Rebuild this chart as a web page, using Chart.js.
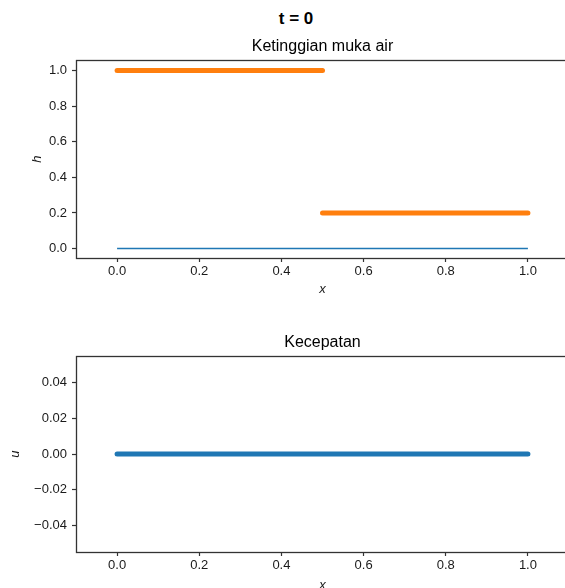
<!DOCTYPE html>
<html>
<head>
<meta charset="utf-8">
<script src="https://cdn.jsdelivr.net/npm/chart.js@4.4.0/dist/chart.umd.min.js"></script>
<style>
  body { margin: 0; background: #fff; overflow: hidden; width: 565px; height: 588px; position: relative; }
  #judul { position: absolute; left: 0; top: 9px; width: 592px; text-align: center;
           font: bold 17px "Liberation Sans", Arial, sans-serif; color: #000; }
  #wrap1 { position: absolute; left: 0; top: 0; width: 620px; height: 300px; }
  #wrap2 { position: absolute; left: 0; top: 300px; width: 620px; height: 300px; }
</style>
</head>
<body>
<div id="judul">t = 0</div>
<div id="wrap1"><canvas id="grafik1" width="620" height="300"></canvas></div>
<div id="wrap2"><canvas id="grafik2" width="620" height="300"></canvas></div>
<script>
// data kondisi awal (t = 0)
const xKiri = [0.0, 0.5];
const hKiri = [1.0, 1.0];
const xKanan = [0.5, 1.0];
const hKanan = [0.2, 0.2];
const xDasar = [0.0, 1.0];
const zDasar = [0.0, 0.0];
const xU = [0.0, 1.0];
const uNilai = [0.0, 0.0];

// tick
const xTicks = [0.0, 0.2, 0.4, 0.6, 0.8, 1.0];
const hTicks = [0.0, 0.2, 0.4, 0.6, 0.8, 1.0];
const uTicks = [-0.04, -0.02, 0.0, 0.02, 0.04];

const biru = '#1f77b4';
const oranye = '#ff7f0e';
const huruf = '"Liberation Sans", Arial, sans-serif';

function titik(xs, ys) {
    let hasil = [];
    for (let i = 0; i < xs.length; i++) {
        hasil.push({x: xs[i], y: ys[i]});
    }
    return hasil;
}

function minus(v, d) {
    let s = Math.abs(v).toFixed(d);
    return v < -1e-9 ? '\u2212' + s : s;
}

// bingkai kotak seperti matplotlib
const bingkai = {
    id: 'bingkai',
    afterDraw(chart) {
        const a = chart.chartArea;
        const c = chart.ctx;
        c.save();
        c.strokeStyle = '#333';
        c.lineWidth = 1.3;
        c.strokeRect(Math.round(a.left) + 0.5, Math.round(a.top) + 0.5,
                     Math.round(a.right - a.left), Math.round(a.bottom - a.top));
        c.restore();
    }
};

function sumbuX(tinggi, padBawah) {
    return {
        type: 'linear',
        min: -0.1,
        max: 1.1,
        afterBuildTicks: (s) => { s.ticks = xTicks.map(v => ({value: v})); },
        afterFit: (s) => { s.height = tinggi; },
        grid: { drawOnChartArea: false, drawTicks: true, tickLength: 4, color: '#333', tickWidth: 1.2 },
        border: { display: false },
        ticks: { color: '#1a1a1a', font: { family: huruf, size: 13 }, padding: 2,
                 maxRotation: 0, callback: (v) => v.toFixed(1) },
        title: { display: true, text: 'x', color: '#1a1a1a',
                 font: { family: huruf, size: 13, style: 'italic' },
                 padding: { top: 0, bottom: padBawah } }
    };
}

function sumbuY(min, max, ticks, digit, label, padKiri) {
    return {
        type: 'linear',
        min: min,
        max: max,
        afterBuildTicks: (s) => { s.ticks = ticks.map(v => ({value: v})); },
        afterFit: (s) => { s.width = 76; },
        grid: { drawOnChartArea: false, drawTicks: true, tickLength: 4, color: '#333', tickWidth: 1.2 },
        border: { display: false },
        ticks: { color: '#1a1a1a', font: { family: huruf, size: 13 }, padding: 5,
                 callback: (v) => minus(v, digit) },
        title: { display: true, text: label, color: '#1a1a1a',
                 font: { family: huruf, size: 13, style: 'italic' },
                 padding: { top: padKiri, bottom: 0 } }
    };
}

function judulPlot(teks, padAtas, padBawah) {
    return {
        display: true,
        text: teks,
        fullSize: false,
        color: '#000',
        font: { family: huruf, size: 16, weight: 'normal' },
        padding: { top: padAtas, bottom: padBawah }
    };
}

// grafik 1: ketinggian muka air
let ctx1 = document.getElementById('grafik1').getContext('2d');
let chart1 = new Chart(ctx1, {
    type: 'scatter',
    data: {
        datasets: [
            { label: 'dasar', data: titik(xDasar, zDasar), showLine: true, borderColor: biru,
              borderWidth: 1.6, pointRadius: 0, order: 2 },
            { label: 'h kiri', data: titik(xKiri, hKiri), showLine: true, borderColor: oranye,
              borderWidth: 5, borderCapStyle: 'round', pointRadius: 0, order: 1 },
            { label: 'h kanan', data: titik(xKanan, hKanan), showLine: true, borderColor: oranye,
              borderWidth: 5, borderCapStyle: 'round', pointRadius: 0, order: 1 }
        ]
    },
    options: {
        responsive: false,
        animation: false,
        layout: { padding: { top: 0, left: 0, right: 51, bottom: 0 } },
        plugins: {
            legend: { display: false },
            tooltip: { enabled: false },
            title: judulPlot('Ketinggian muka air', 37, 4)
        },
        scales: {
            x: sumbuX(42, 3),
            y: sumbuY(-0.053, 1.058, hTicks, 1, 'h', 30)
        }
    },
    plugins: [bingkai]
});

// grafik 2: kecepatan
let ctx2 = document.getElementById('grafik2').getContext('2d');
let chart2 = new Chart(ctx2, {
    type: 'scatter',
    data: {
        datasets: [
            { label: 'u', data: titik(xU, uNilai), showLine: true, borderColor: biru,
              borderWidth: 5, borderCapStyle: 'round', pointRadius: 0 }
        ]
    },
    options: {
        responsive: false,
        animation: false,
        layout: { padding: { top: 0, left: 0, right: 51, bottom: 0 } },
        plugins: {
            legend: { display: false },
            tooltip: { enabled: false },
            title: judulPlot('Kecepatan', 33, 4)
        },
        scales: {
            x: sumbuX(48, 7),
            y: sumbuY(-0.055, 0.055, uTicks, 2, 'u', 8)
        }
    },
    plugins: [bingkai]
});
</script>
</body>
</html>
